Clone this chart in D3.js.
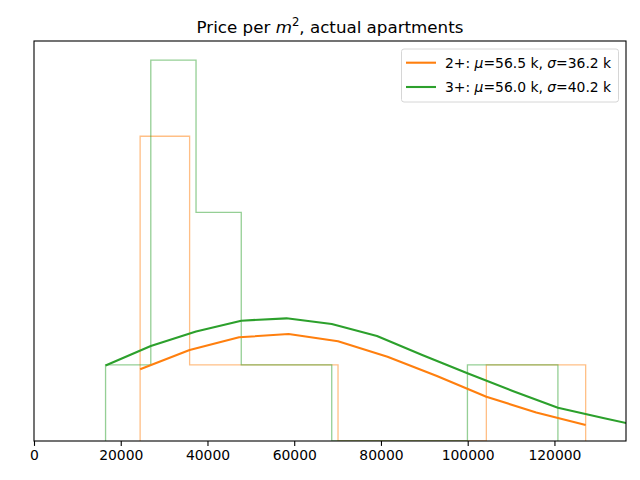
<!DOCTYPE html>
<html>
<head>
<meta charset="utf-8">
<title>Price per m2, actual apartments</title>
<script src="https://d3js.org/d3.v7.min.js"></script>
<style>
    body { margin: 0; background: #ffffff; }
    svg text { font-family: "DejaVu Sans", sans-serif; fill: #000; }
</style>
</head>
<body>
<div id="chart"></div>
<script>
// series labels
var seriesNames = ["2+", "3+"];
var seriesMu = ["56.5", "56.0"];
var seriesSigma = ["36.2", "40.2"];
var seriesColors = ["#ff7f0e", "#2ca02c"];

// histogram bin edges (price per m2) and counts
var edges2 = [24470, 35880, 47290, 58700, 70100, 81500, 92900, 104300, 115800, 127200];
var counts2 = [4, 1, 1, 1, 0, 0, 0, 1, 1];
var edges3 = [16500, 26930, 37360, 47790, 58220, 68650, 79080, 89510, 99940, 110370, 120800];
var counts3 = [1, 5, 3, 1, 1, 0, 0, 0, 1, 1];

// fitted curves, read at the bin edges
var curveX2 = [24470, 35880, 47290, 58700, 70100, 81500, 92900, 104300, 115800, 127200];
var curveY2 = [0.941, 1.194, 1.361, 1.404, 1.309, 1.106, 0.853, 0.581, 0.374, 0.210];
var curveX3 = [16500, 26930, 37360, 47790, 58220, 68650, 79080, 89510, 99940, 110370, 120800, 131230, 141660];
var curveY3 = [0.991, 1.247, 1.437, 1.579, 1.610, 1.536, 1.378, 1.129, 0.889, 0.656, 0.437, 0.302, 0.171];

var xTicks = [0, 20000, 40000, 60000, 80000, 100000, 120000];

var margin = { top: 41, right: 14, bottom: 39, left: 34 };
var width = 640 - margin.left - margin.right;
var height = 480 - margin.top - margin.bottom;

var svg = d3.select("#chart")
    .append("svg")
    .attr("width", 640)
    .attr("height", 480);

var g = svg.append("g")
    .attr("transform", "translate(" + margin.left + "," + margin.top + ")");

var x = d3.scaleLinear().domain([0, 136500]).range([0, width]);
var y = d3.scaleLinear().domain([0, 5.25]).range([height, 0]);

g.append("clipPath").attr("id", "clip")
    .append("rect").attr("width", width).attr("height", height);

var plot = g.append("g").attr("clip-path", "url(#clip)");

// step outline of a histogram
function stepPoints(edges, counts) {
    var pts = [[edges[0], 0]];
    for (var i = 0; i < counts.length; i++) {
        pts.push([edges[i], counts[i]]);
        pts.push([edges[i + 1], counts[i]]);
    }
    pts.push([edges[edges.length - 1], 0]);
    return pts;
}

var line = d3.line()
    .x(function(d) { return x(d[0]); })
    .y(function(d) { return y(d[1]); });

var hists = [[edges2, counts2], [edges3, counts3]];
hists.forEach(function(h, i) {
    plot.append("path")
        .attr("d", line(stepPoints(h[0], h[1])))
        .attr("fill", "none")
        .attr("stroke", seriesColors[i])
        .attr("stroke-opacity", 0.5)
        .attr("stroke-width", 1.3);
});

var curves = [[curveX2, curveY2], [curveX3, curveY3]];
curves.forEach(function(c, i) {
    var pts = c[0].map(function(v, j) { return [v, c[1][j]]; });
    plot.append("path")
        .attr("d", line(pts))
        .attr("fill", "none")
        .attr("stroke", seriesColors[i])
        .attr("stroke-width", 2.1)
        .attr("stroke-linejoin", "round");
});

// axes frame
g.append("rect")
    .attr("width", width).attr("height", height)
    .attr("fill", "none").attr("stroke", "#000").attr("stroke-width", 1.1);

var xAxis = g.append("g")
    .attr("transform", "translate(0," + height + ")")
    .call(d3.axisBottom(x).tickValues(xTicks).tickFormat(d3.format("d")).tickSize(4.9).tickPadding(4.5));
xAxis.select(".domain").remove();
xAxis.selectAll("line").attr("stroke", "#000").attr("stroke-width", 1.1);
xAxis.selectAll("text")
    .style("font-family", "'DejaVu Sans', sans-serif")
    .style("font-size", "13.9px");

// title
var title = svg.append("text")
    .attr("x", margin.left + width / 2)
    .attr("y", 33)
    .attr("text-anchor", "middle")
    .style("font-size", "16.7px");
title.append("tspan").text("Price per ");
title.append("tspan").style("font-style", "italic").text("m");
title.append("tspan").attr("dy", -7).style("font-size", "11.7px").text("2");
title.append("tspan").attr("dy", 7).text(", actual apartments");

// legend
var legend = svg.append("g").attr("transform", "translate(401.5,49)");
legend.append("rect")
    .attr("width", 217).attr("height", 53).attr("rx", 2.5)
    .attr("fill", "#fff").attr("fill-opacity", 0.8)
    .attr("stroke", "#d6d6d6").attr("stroke-width", 1);

seriesNames.forEach(function(name, i) {
    var ly = 13.7 + i * 24.3;
    legend.append("line")
        .attr("x1", 4.5).attr("x2", 34.5)
        .attr("y1", ly).attr("y2", ly)
        .attr("stroke", seriesColors[i]).attr("stroke-width", 2.1);
    var t = legend.append("text")
        .attr("x", 43.5).attr("y", ly + 5)
        .style("font-size", "13.9px");
    t.append("tspan").text(name + ": ");
    t.append("tspan").style("font-style", "italic").text("\u03bc");
    t.append("tspan").text("=" + seriesMu[i] + " k, ");
    t.append("tspan").style("font-style", "italic").text("\u03c3");
    t.append("tspan").text("=" + seriesSigma[i] + " k");
});
</script>
</body>
</html>
